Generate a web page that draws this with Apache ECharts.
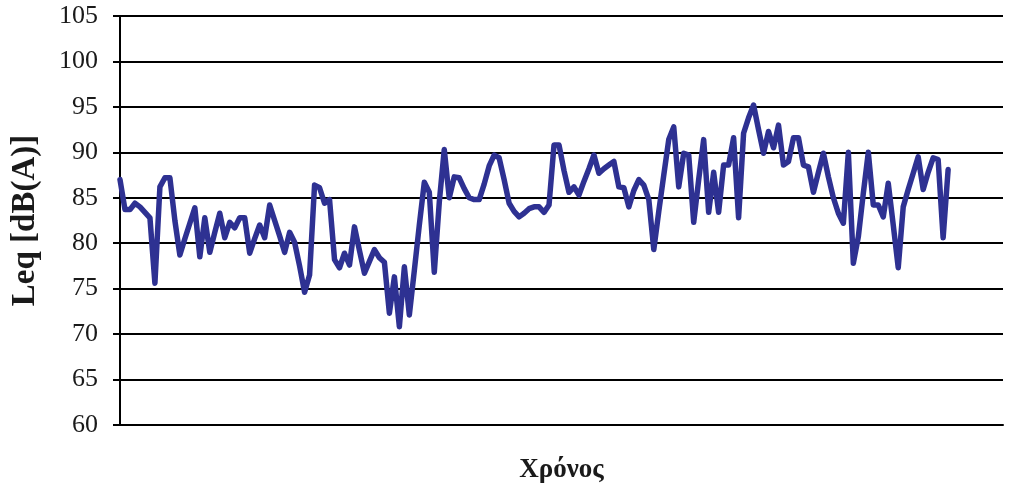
<!DOCTYPE html>
<html>
<head>
<meta charset="utf-8">
<script src="https://cdn.jsdelivr.net/npm/echarts@6/dist/echarts.min.js"></script>
<style>
  html, body { margin: 0; padding: 0; background: #ffffff; }
  #chart { width: 1016px; height: 493px; }
</style>
</head>
<body>
<div id="chart"></div>
<script>
// Equivalent sound level readings, one per time step
const leqValues = [
  87.0, 83.7, 83.7, 84.4, 84.0, 83.4, 82.8, 75.6, 86.2, 87.2,
  87.2, 82.5, 78.7, 80.5, 82.2, 83.9, 78.5, 82.8, 79.0, 81.2,
  83.3, 80.6, 82.3, 81.7, 82.8, 82.8, 78.9, 80.5, 82.0, 80.6,
  84.2, 82.5, 80.8, 79.0, 81.2, 80.1, 77.5, 74.6, 76.5, 86.4,
  86.1, 84.4, 84.8, 78.2, 77.3, 78.9, 77.6, 81.8, 79.2, 76.7,
  78.0, 79.3, 78.4, 77.9, 72.3, 76.3, 70.8, 77.4, 72.1, 77.0,
  82.0, 86.7, 85.6, 76.8, 84.5, 90.3, 85.0, 87.3, 87.2, 86.0,
  85.0, 84.8, 84.8, 86.5, 88.5, 89.7, 89.4, 87.0, 84.4, 83.5,
  82.9, 83.3, 83.8, 84.0, 84.0, 83.4, 84.2, 90.8, 90.8, 88.0,
  85.6, 86.2, 85.3, 86.8, 88.2, 89.7, 87.7, 88.2, 88.6, 89.0,
  86.2, 86.1, 84.0, 85.8, 87.0, 86.4, 84.8, 79.3, 83.5, 87.5,
  91.4, 92.8, 86.2, 89.9, 89.7, 82.3, 87.0, 91.4, 83.4, 87.8,
  83.4, 88.6, 88.6, 91.6, 82.8, 92.1, 93.8, 95.2, 92.5, 89.9,
  92.3, 90.5, 93.0, 88.6, 89.0, 91.6, 91.6, 88.6, 88.4, 85.6,
  87.8, 89.9, 87.3, 85.0, 83.3, 82.2, 90.0, 77.8, 80.7, 85.5,
  90.0, 84.2, 84.2, 82.9, 86.6, 82.0, 77.3, 84.0, 85.9, 87.7,
  89.5, 85.9, 87.8, 89.4, 89.2, 80.6, 88.1
];

// Time axis slots (the axis runs a little past the last reading)
const timeSlotCount = 178;
const timeSlots = Array.from({ length: timeSlotCount }, (_, i) => String(i + 1));

// Level axis range and step
const levelMin = 60;
const levelMax = 105;
const levelStep = 5;

const serifFont = '"Liberation Serif", "Times New Roman", serif';

const chart = echarts.init(document.getElementById('chart'), null, { renderer: 'canvas' });

chart.setOption({
  backgroundColor: '#ffffff',
  animation: false,
  grid: { left: 120, right: 13, top: 16, bottom: 68, containLabel: false },
  xAxis: {
    type: 'category',
    data: timeSlots,
    boundaryGap: false,
    name: 'Χρόνος',
    nameLocation: 'middle',
    nameGap: 32,
    nameTextStyle: { fontFamily: serifFont, fontWeight: 'bold', fontSize: 27, color: '#1a1a1a' },
    axisLine: { show: true, onZero: false, lineStyle: { color: '#000000', width: 2 } },
    axisTick: { show: false },
    axisLabel: { show: false },
    splitLine: { show: false }
  },
  yAxis: {
    type: 'value',
    min: levelMin,
    max: levelMax,
    interval: levelStep,
    name: 'Leq [dB(A)]',
    nameLocation: 'middle',
    nameGap: 78,
    nameRotate: 90,
    nameTextStyle: { fontFamily: serifFont, fontWeight: 'bold', fontSize: 33, color: '#1a1a1a' },
    axisLine: { show: true, lineStyle: { color: '#000000', width: 2 } },
    axisTick: { show: true, inside: false, length: 7, lineStyle: { color: '#000000', width: 2 } },
    axisLabel: { fontFamily: serifFont, fontSize: 26, color: '#1a1a1a', margin: 22 },
    splitLine: { show: true, lineStyle: { color: '#000000', width: 2 } }
  },
  series: [{
    type: 'line',
    data: leqValues,
    showSymbol: false,
    symbol: 'none',
    smooth: false,
    lineStyle: { color: '#2e3192', width: 5.5, join: 'round', cap: 'round' },
    z: 3
  }]
});
</script>
</body>
</html>
